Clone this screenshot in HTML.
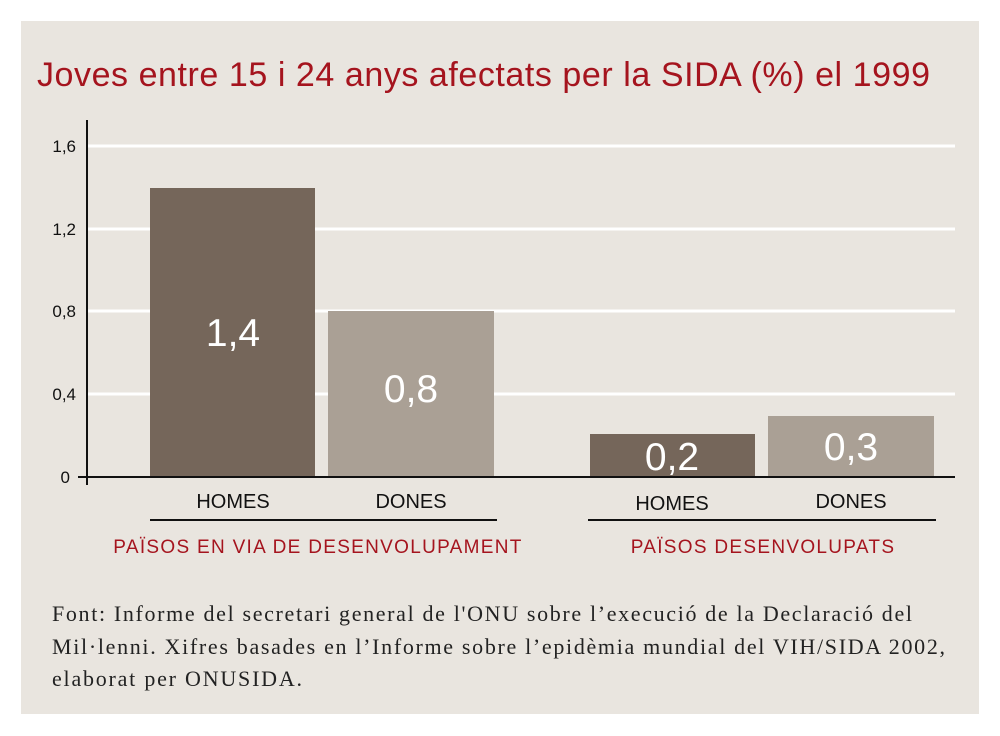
<!DOCTYPE html>
<html><head><meta charset="utf-8"><style>
body{margin:0;background:#fff;width:1000px;height:736px;position:relative;overflow:hidden}
#p{position:absolute;left:21px;top:21px;width:958px;height:693px;background:#e9e5df}
svg{position:absolute;left:0;top:0}
</style></head><body>
<div id="p"></div>
<svg width="1000" height="736" font-family="Liberation Sans, sans-serif">
<text x="37" y="86" font-size="34" fill="#a5141e" textLength="893" lengthAdjust="spacing">Joves entre 15 i 24 anys afectats per la SIDA (%) el 1999</text>
<g stroke="#fff" stroke-width="3">
<line x1="87" x2="955" y1="146" y2="146"/><line x1="87" x2="955" y1="229" y2="229"/>
<line x1="87" x2="955" y1="311" y2="311"/><line x1="87" x2="955" y1="394" y2="394"/>
</g>
<rect x="150" y="188" width="165" height="289" fill="#75665a"/>
<rect x="328" y="311" width="166" height="166" fill="#aaa095"/>
<rect x="590" y="434" width="165" height="43" fill="#75665a"/>
<rect x="768" y="416" width="166" height="61" fill="#aaa095"/>
<line x1="87" x2="87" y1="120" y2="485" stroke="#111" stroke-width="2"/>
<line x1="78" x2="955" y1="477" y2="477" stroke="#111" stroke-width="2"/>
<g font-size="17" fill="#111" text-anchor="end">
<text x="76" y="152">1,6</text><text x="76" y="235">1,2</text><text x="76" y="317">0,8</text><text x="76" y="400">0,4</text><text x="70" y="483">0</text>
</g>
<g font-size="39" fill="#fff" text-anchor="middle">
<text x="233" y="346">1,4</text><text x="411" y="402">0,8</text><text x="672" y="470">0,2</text><text x="851" y="460">0,3</text>
</g>
<g font-size="20" fill="#111" text-anchor="middle">
<text x="233" y="508">HOMES</text><text x="411" y="508">DONES</text><text x="672" y="510">HOMES</text><text x="851" y="508">DONES</text>
</g>
<line x1="150" x2="497" y1="520" y2="520" stroke="#111" stroke-width="2"/>
<line x1="588" x2="936" y1="520" y2="520" stroke="#111" stroke-width="2"/>
<g font-size="19" fill="#a5141e" text-anchor="middle" letter-spacing="1.3">
<text x="318" y="553">PAÏSOS EN VIA DE DESENVOLUPAMENT</text><text x="763" y="553">PAÏSOS DESENVOLUPATS</text>
</g>
<g font-family="Liberation Serif, serif" font-size="22" fill="#222">
<text x="52" y="621" textLength="860" lengthAdjust="spacing">Font: Informe del secretari general de l'ONU sobre l’execució de la Declaració del</text>
<text x="52" y="654" textLength="893" lengthAdjust="spacing">Mil·lenni. Xifres basades en l’Informe sobre l’epidèmia mundial del VIH/SIDA 2002,</text>
<text x="52" y="686" textLength="250" lengthAdjust="spacing">elaborat per ONUSIDA.</text>
</g>
</svg>
</body></html>
